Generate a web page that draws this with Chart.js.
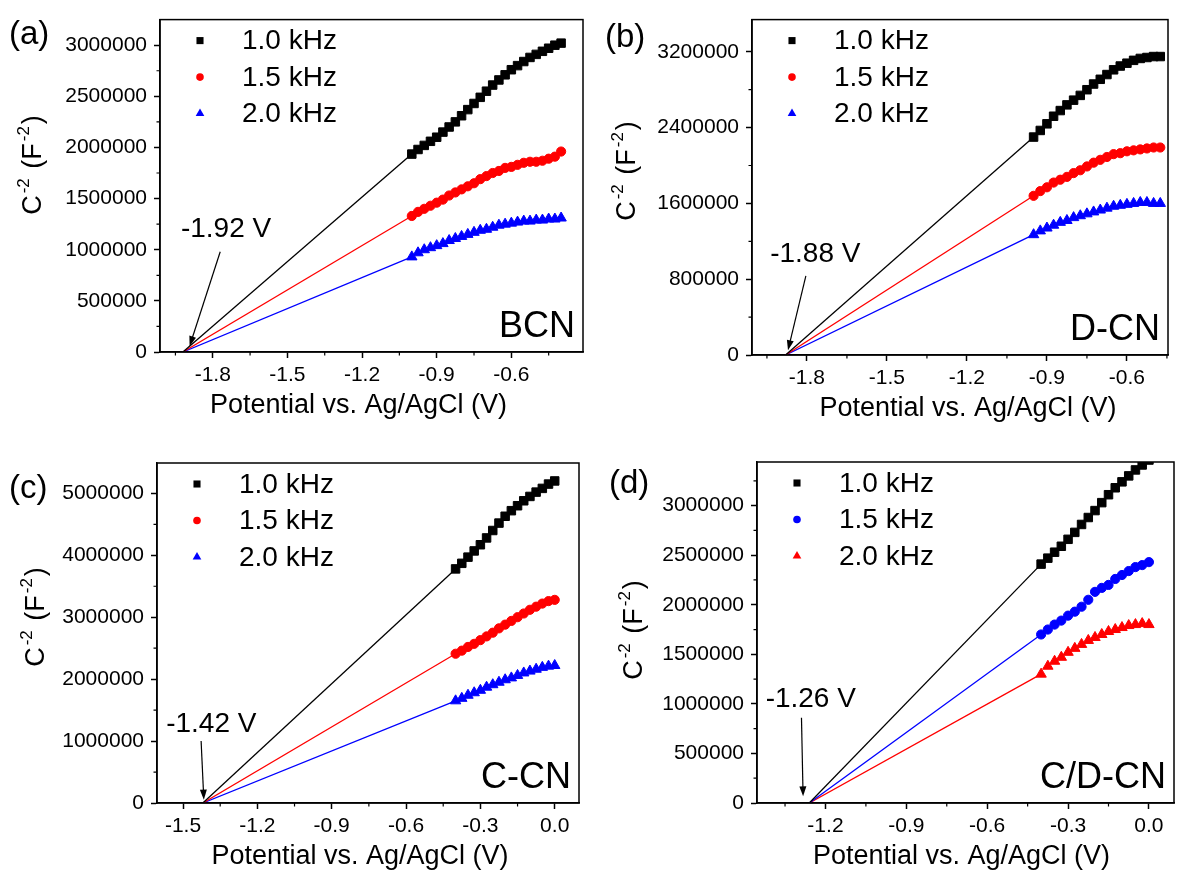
<!DOCTYPE html>
<html>
<head>
<meta charset="utf-8">
<script src="https://cdn.jsdelivr.net/npm/chart.js@4.4.0/dist/chart.umd.min.js"></script>
<style>
  html, body { margin: 0; padding: 0; background: #fff; }
  #wrap { position: relative; width: 1181px; height: 875px; overflow: hidden; }
  canvas { position: absolute; }
</style>
</head>
<body>
<div id="wrap">
  <canvas id="chartA" width="590" height="430" style="left:0;top:0"></canvas>
  <canvas id="chartB" width="591" height="430" style="left:590px;top:0"></canvas>
  <canvas id="chartC" width="590" height="445" style="left:0;top:430px"></canvas>
  <canvas id="chartD" width="591" height="445" style="left:590px;top:430px"></canvas>
</div>
<script>
// ---- data ----
const freqLabels = ['1.0 kHz', '1.5 kHz', '2.0 kHz'];

// (a) BCN
const potA = [-1.000, -0.975, -0.950, -0.925, -0.900, -0.875, -0.850, -0.825, -0.800, -0.775, -0.750, -0.725, -0.700,
              -0.675, -0.650, -0.625, -0.600, -0.575, -0.550, -0.525, -0.500, -0.475, -0.450, -0.425, -0.400];
const bcn1k  = [1.935e6, 1.98e6, 2.02e6, 2.06e6, 2.10e6, 2.15e6, 2.20e6, 2.25e6, 2.31e6, 2.37e6, 2.43e6, 2.49e6, 2.55e6,
                2.61e6, 2.66e6, 2.71e6, 2.76e6, 2.80e6, 2.84e6, 2.88e6, 2.91e6, 2.94e6, 2.97e6, 3.00e6, 3.02e6];
const bcn15k = [1.33e6, 1.37e6, 1.40e6, 1.43e6, 1.46e6, 1.49e6, 1.53e6, 1.56e6, 1.59e6, 1.62e6, 1.65e6, 1.69e6, 1.72e6,
                1.75e6, 1.77e6, 1.80e6, 1.81e6, 1.83e6, 1.85e6, 1.86e6, 1.86e6, 1.87e6, 1.89e6, 1.91e6, 1.96e6];
const bcn2k  = [0.93e6, 0.97e6, 1.00e6, 1.02e6, 1.04e6, 1.06e6, 1.09e6, 1.11e6, 1.13e6, 1.15e6, 1.17e6, 1.19e6, 1.20e6,
                1.22e6, 1.24e6, 1.25e6, 1.26e6, 1.27e6, 1.28e6, 1.28e6, 1.29e6, 1.29e6, 1.30e6, 1.30e6, 1.31e6];
const efbA = -1.92;

// (b) D-CN
const potB = [-0.950, -0.925, -0.900, -0.875, -0.850, -0.825, -0.800, -0.775, -0.750, -0.725,
              -0.700, -0.675, -0.650, -0.625, -0.600, -0.575, -0.550, -0.525, -0.500, -0.475];
const dcn1k  = [2.30e6, 2.37e6, 2.44e6, 2.52e6, 2.58e6, 2.64e6, 2.69e6, 2.74e6, 2.80e6, 2.86e6,
                2.91e6, 2.96e6, 3.01e6, 3.05e6, 3.08e6, 3.11e6, 3.13e6, 3.14e6, 3.15e6, 3.15e6];
const dcn15k = [1.68e6, 1.73e6, 1.77e6, 1.82e6, 1.85e6, 1.88e6, 1.92e6, 1.95e6, 1.99e6, 2.03e6,
                2.06e6, 2.09e6, 2.12e6, 2.13e6, 2.15e6, 2.16e6, 2.17e6, 2.18e6, 2.19e6, 2.19e6];
const dcn2k  = [1.27e6, 1.31e6, 1.34e6, 1.37e6, 1.40e6, 1.42e6, 1.45e6, 1.47e6, 1.49e6, 1.51e6,
                1.53e6, 1.55e6, 1.57e6, 1.58e6, 1.59e6, 1.60e6, 1.61e6, 1.61e6, 1.60e6, 1.60e6];
const efbB = -1.88;

// (c) C-CN
const potC = [-0.400, -0.375, -0.350, -0.325, -0.300, -0.275, -0.250, -0.225, -0.200,
              -0.175, -0.150, -0.125, -0.100, -0.075, -0.050, -0.025, 0.000];
const ccn1k  = [3.78e6, 3.87e6, 3.97e6, 4.07e6, 4.17e6, 4.28e6, 4.40e6, 4.52e6, 4.63e6,
                4.72e6, 4.80e6, 4.88e6, 4.95e6, 5.02e6, 5.08e6, 5.15e6, 5.20e6];
const ccn15k = [2.41e6, 2.46e6, 2.52e6, 2.57e6, 2.63e6, 2.69e6, 2.75e6, 2.82e6, 2.88e6,
                2.94e6, 3.00e6, 3.06e6, 3.12e6, 3.17e6, 3.22e6, 3.26e6, 3.28e6];
const ccn2k  = [1.65e6, 1.69e6, 1.74e6, 1.78e6, 1.82e6, 1.87e6, 1.91e6, 1.95e6, 1.99e6,
                2.02e6, 2.06e6, 2.10e6, 2.13e6, 2.16e6, 2.19e6, 2.21e6, 2.22e6];
const efbC = -1.42;

// (d) C/D-CN
const potD = [-0.400, -0.375, -0.350, -0.325, -0.300, -0.275, -0.250, -0.225, -0.200,
              -0.175, -0.150, -0.125, -0.100, -0.075, -0.050, -0.025, 0.000];
const cdcn1k  = [2.41e6, 2.47e6, 2.53e6, 2.59e6, 2.66e6, 2.73e6, 2.81e6, 2.88e6, 2.95e6,
                 3.03e6, 3.11e6, 3.18e6, 3.24e6, 3.30e6, 3.36e6, 3.41e6, 3.46e6];
const cdcn15k = [1.70e6, 1.75e6, 1.80e6, 1.84e6, 1.89e6, 1.93e6, 1.98e6, 2.05e6, 2.13e6,
                 2.17e6, 2.20e6, 2.26e6, 2.30e6, 2.34e6, 2.38e6, 2.40e6, 2.43e6];
const cdcn2k  = [1.30e6, 1.38e6, 1.43e6, 1.47e6, 1.52e6, 1.56e6, 1.60e6, 1.64e6, 1.67e6,
                 1.70e6, 1.73e6, 1.75e6, 1.77e6, 1.79e6, 1.80e6, 1.81e6, 1.80e6];
const efbD = -1.26;

// tick values
const xTicksA = [-1.8, -1.5, -1.2, -0.9, -0.6];
const xTicksB = [-1.8, -1.5, -1.2, -0.9, -0.6];
const xTicksC = [-1.5, -1.2, -0.9, -0.6, -0.3, 0.0];
const xTicksD = [-1.2, -0.9, -0.6, -0.3, 0.0];
const yTicksA = [0, 500000, 1000000, 1500000, 2000000, 2500000, 3000000];
const yTicksB = [0, 800000, 1600000, 2400000, 3200000];
const yTicksC = [0, 1000000, 2000000, 3000000, 4000000, 5000000];
const yTicksD = [0, 500000, 1000000, 1500000, 2000000, 2500000, 3000000];

// ---- styling ----
const FONT = '"Liberation Sans", Arial, sans-serif';
const TICK_SIZE = 21;
const TITLE_SIZE = 27;
Chart.defaults.font.family = FONT;
Chart.defaults.color = '#000';

const panels = [
  { id: 'chartA', tag: '(a)', sample: 'BCN', pot: potA, series: [bcn1k, bcn15k, bcn2k], efb: efbA,
    colors: ['#000000', '#ff0000', '#0000ff'], xMin: -2.012, xMax: -0.312, yMax: 3.25e6,
    xTicks: xTicksA, yTicks: yTicksA, yAxisW: 160, padR: 5, padT: 12, xAxisH: 78, xTitleDx: -13,
    tagPos: [9, 35], yTitlePos: [34, 165], note: { text: '-1.92 V', x: -1.928, y: 1.2e6, from: [-1.77, 0.98e6], to: [-1.893, 0.057e6] } },
  { id: 'chartB', tag: '(b)', sample: 'D-CN', pot: potB, series: [dcn1k, dcn15k, dcn2k], efb: efbB,
    colors: ['#000000', '#ff0000', '#0000ff'], xMin: -2.006, xMax: -0.446, yMax: 3.54e6,
    xTicks: xTicksB, yTicks: yTicksB, yAxisW: 162, padR: 13, padT: 12, xAxisH: 75, xTitleDx: 8,
    tagPos: [15, 38], yTitlePos: [38, 171], note: { text: '-1.88 V', x: -1.938, y: 1.067e6, from: [-1.804, 0.836e6], to: [-1.871, 0.05e6] } },
  { id: 'chartC', tag: '(c)', sample: 'C-CN', pot: potC, series: [ccn1k, ccn15k, ccn2k], efb: efbC,
    colors: ['#000000', '#ff0000', '#0000ff'], xMin: -1.605, xMax: 0.098, yMax: 5.49e6,
    xTicks: xTicksC, yTicks: yTicksC, yAxisW: 157, padR: 11, padT: 33, xAxisH: 72, xTitleDx: -8,
    tagPos: [9, 59], yTitlePos: [37, 187], note: { text: '-1.42 V', x: -1.568, y: 1.27e6, from: [-1.427, 1.0e6], to: [-1.416, 0.054e6] } },
  { id: 'chartD', tag: '(d)', sample: 'C/D-CN', pot: potD, series: [cdcn1k, cdcn15k, cdcn2k], efb: efbD,
    colors: ['#000000', '#0000ff', '#ff0000'], xMin: -1.454, xMax: 0.093, yMax: 3.44e6,
    xTicks: xTicksD, yTicks: yTicksD, yAxisW: 167, padR: 1, padT: 32, xAxisH: 72, xTitleDx: -4,
    tagPos: [19, 54], yTitlePos: [45, 200], note: { text: '-1.26 V', x: -1.422, y: 1.045e6, from: [-1.289, 0.86e6], to: [-1.283, 0.067e6] } }
];

const markerStyles = ['rect', 'circle', 'triangle'];
const markerRadius = [6, 4.6, 6];
const legendRadius = [5, 3.8, 5];

function drawMarker(ctx, style, x, y, r, color) {
  ctx.fillStyle = color;
  ctx.beginPath();
  if (style === 'rect') {
    const s = r * Math.SQRT1_2;
    ctx.rect(x - s, y - s, 2 * s, 2 * s);
  } else if (style === 'circle') {
    ctx.arc(x, y, r, 0, Math.PI * 2);
  } else {
    ctx.moveTo(x, y - r);
    ctx.lineTo(x + r * 0.866, y + r * 0.5);
    ctx.lineTo(x - r * 0.866, y + r * 0.5);
    ctx.closePath();
  }
  ctx.fill();
}

// box, minor ticks, legend, labels, annotation arrow
const decor = {
  id: 'decor',
  afterDraw(chart, args, opts) {
    const p = opts.panel;
    const { ctx, chartArea: a, scales: { x, y } } = chart;
    ctx.save();
    ctx.strokeStyle = '#000';
    ctx.lineWidth = 1.5;
    ctx.strokeRect(a.left, a.top, a.right - a.left, a.bottom - a.top);

    // minor ticks halfway between majors
    const minor = (ticks, lo, hi) => {
      const step = ticks[1] - ticks[0];
      const out = [];
      for (let i = -1; i < ticks.length; i++) {
        const v = (i < 0 ? ticks[0] - step : ticks[i]) + step / 2;
        if (v > lo && v < hi) out.push(v);
      }
      return out;
    };
    ctx.lineWidth = 1.2;
    ctx.beginPath();
    minor(p.xTicks, p.xMin, p.xMax).forEach(v => {
      const px = x.getPixelForValue(v);
      ctx.moveTo(px, a.bottom); ctx.lineTo(px, a.bottom + 3.5);
    });
    minor(p.yTicks, 0, p.yMax).forEach(v => {
      const py = y.getPixelForValue(v);
      ctx.moveTo(a.left, py); ctx.lineTo(a.left - 3.5, py);
    });
    ctx.stroke();

    // legend
    ctx.font = '28px ' + FONT;
    ctx.textBaseline = 'middle';
    ctx.textAlign = 'left';
    freqLabels.forEach((lab, i) => {
      const cy = a.top + 21 + 36.5 * i;
      drawMarker(ctx, markerStyles[i], a.left + 40, cy, legendRadius[i], p.colors[i]);
      ctx.fillStyle = '#000';
      ctx.fillText(lab, a.left + 82, cy + 1);
    });

    // x axis title
    ctx.font = TITLE_SIZE + 'px ' + FONT;
    ctx.textAlign = 'center';
    ctx.fillText('Potential vs. Ag/AgCl (V)', (a.left + a.right) / 2 + p.xTitleDx, a.bottom + 54);

    // sample name
    ctx.font = '36px ' + FONT;
    ctx.textAlign = 'right';
    ctx.textBaseline = 'alphabetic';
    ctx.fillText(p.sample, a.right - 8, a.bottom - 15);

    // panel tag
    ctx.font = '33px ' + FONT;
    ctx.textAlign = 'left';
    ctx.textBaseline = 'middle';
    ctx.fillText(p.tag, p.tagPos[0], p.tagPos[1]);

    // flat-band annotation
    const n = p.note;
    ctx.font = '28px ' + FONT;
    ctx.fillText(n.text, x.getPixelForValue(n.x), y.getPixelForValue(n.y));
    const x0 = x.getPixelForValue(n.from[0]), y0 = y.getPixelForValue(n.from[1]);
    const x1 = x.getPixelForValue(n.to[0]), y1 = y.getPixelForValue(n.to[1]);
    const ang = Math.atan2(y1 - y0, x1 - x0);
    ctx.lineWidth = 1.2;
    ctx.beginPath();
    ctx.moveTo(x0, y0);
    ctx.lineTo(x1 - 6 * Math.cos(ang), y1 - 6 * Math.sin(ang));
    ctx.stroke();
    ctx.beginPath();
    ctx.moveTo(x1, y1);
    ctx.lineTo(x1 - 10 * Math.cos(ang) + 3.5 * Math.sin(ang), y1 - 10 * Math.sin(ang) - 3.5 * Math.cos(ang));
    ctx.lineTo(x1 - 10 * Math.cos(ang) - 3.5 * Math.sin(ang), y1 - 10 * Math.sin(ang) + 3.5 * Math.cos(ang));
    ctx.closePath();
    ctx.fillStyle = '#000';
    ctx.fill();

    // y axis title with superscripts: C-2 (F-2)
    ctx.translate(p.yTitlePos[0], p.yTitlePos[1]);
    ctx.rotate(-Math.PI / 2);
    const big = TITLE_SIZE + 'px ' + FONT, small = '17px ' + FONT;
    const parts = [['C', big, 0], ['-2', small, -10], [' (F', big, 0], ['-2', small, -10], [')', big, 0]];
    let total = 0;
    parts.forEach(pt => { ctx.font = pt[1]; total += ctx.measureText(pt[0]).width + (pt[1] === small ? 4 : 0); });
    let cx = -total / 2;
    ctx.textAlign = 'left';
    ctx.textBaseline = 'middle';
    parts.forEach(pt => {
      ctx.font = pt[1];
      if (pt[1] === small) cx += 2;
      ctx.fillText(pt[0], cx, pt[2]);
      cx += ctx.measureText(pt[0]).width + (pt[1] === small ? 2 : 0);
    });
    ctx.restore();
  }
};

function axisBase() {
  return {
    grid: { drawOnChartArea: false, drawTicks: true, tickLength: 6, tickColor: '#000', tickWidth: 1.5 },
    border: { display: true, color: '#000', width: 1.5 }
  };
}

panels.forEach(p => {
  const datasets = [];
  p.series.forEach((ys, i) => {
    // linear fit to the flat-band intercept
    datasets.push({
      label: 'fit ' + freqLabels[i],
      data: [{ x: p.efb, y: 0 }, { x: p.pot[0], y: ys[0] }],
      showLine: true, borderColor: p.colors[i], borderWidth: 1.3, pointRadius: 0, order: 2
    });
    datasets.push({
      label: freqLabels[i],
      data: p.pot.map((v, k) => ({ x: v, y: ys[k] })),
      showLine: false, pointStyle: markerStyles[i], pointRadius: markerRadius[i],
      backgroundColor: p.colors[i], borderColor: p.colors[i], pointBorderWidth: 1, order: 1
    });
  });

  new Chart(document.getElementById(p.id), {
    type: 'scatter',
    data: { datasets },
    options: {
      responsive: false,
      animation: false,
      layout: { padding: { left: 0, right: p.padR, top: p.padT, bottom: 0 } },
      plugins: { legend: { display: false }, tooltip: { enabled: false }, decor: { panel: p } },
      scales: {
        x: {
          ...axisBase(),
          type: 'linear', min: p.xMin, max: p.xMax,
          afterBuildTicks: s => { s.ticks = p.xTicks.map(v => ({ value: v })); },
          afterFit: s => { s.height = p.xAxisH; },
          ticks: { autoSkip: false, maxRotation: 0, font: { size: TICK_SIZE }, color: '#000', padding: 5,
                   callback: v => v.toFixed(1) }
        },
        y: {
          ...axisBase(),
          type: 'linear', min: 0, max: p.yMax,
          afterBuildTicks: s => { s.ticks = p.yTicks.map(v => ({ value: v })); },
          afterFit: s => { s.width = p.yAxisW; },
          ticks: { autoSkip: false, font: { size: TICK_SIZE }, color: '#000', padding: 7,
                   callback: v => String(v) }
        }
      }
    },
    plugins: [decor]
  });
});
</script>
</body>
</html>
